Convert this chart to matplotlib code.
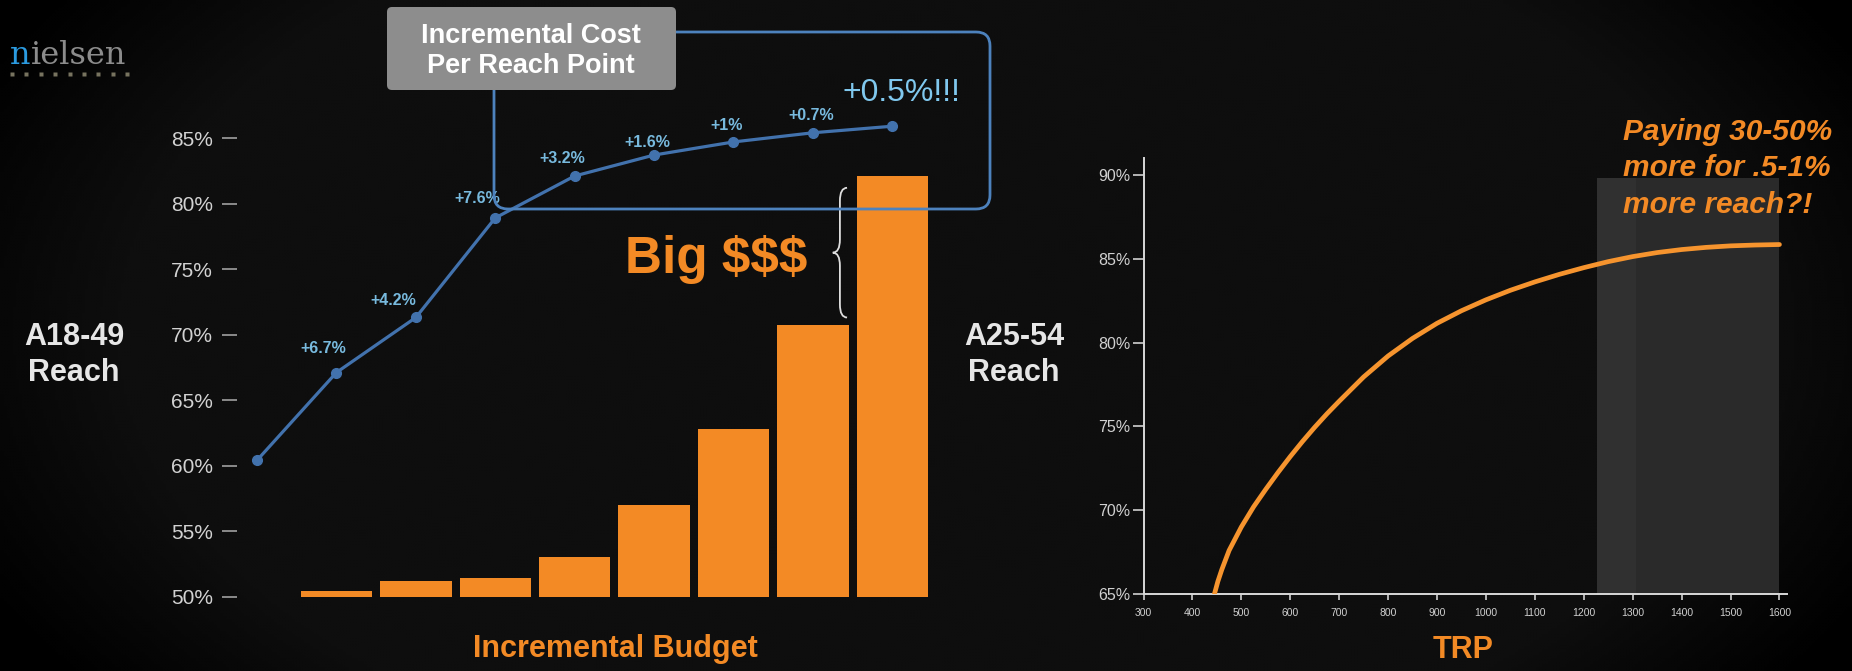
import numpy as np
import matplotlib
matplotlib.use('Agg')
import matplotlib.pyplot as plt
import matplotlib.transforms as mtransforms
from matplotlib.patches import FancyBboxPatch, PathPatch
from matplotlib.path import Path
from matplotlib.lines import Line2D

plt.rcParams['font.family'] = ['Liberation Sans', 'DejaVu Sans']

W, H = 1852, 671

# A18-49 reach: starting point and the step added by each budget increment
reach_start = 60.4
reach_steps = [6.7, 4.2, 7.6, 3.2, 1.6, 1.0, 0.7, 0.5]
step_labels = ['+6.7%', '+4.2%', '+7.6%', '+3.2%', '+1.6%', '+1%', '+0.7%', '+0.5%!!!']
# incremental budget bars, drawn on the reach scale from the 50% floor
budget_tops = [50.45, 51.15, 51.4, 53.0, 57.0, 62.8, 70.7, 82.1]
left_yticks = [50, 55, 60, 65, 70, 75, 80, 85]

# A25-54 reach curve by TRP
trp = [445, 452, 460, 475, 500, 525, 550, 575, 600, 625, 650, 675, 700, 750, 800,
       850, 900, 950, 1000, 1050, 1100, 1150, 1200, 1250, 1300, 1350, 1400,
       1450, 1500, 1550, 1600]
reach_curve = [65.0, 65.75, 66.45, 67.6, 69.0, 70.2, 71.25, 72.25, 73.2, 74.1, 74.95,
               75.75, 76.5, 77.95, 79.2, 80.25, 81.15, 81.9, 82.55, 83.12, 83.62,
               84.07, 84.47, 84.83, 85.13, 85.37, 85.55, 85.68, 85.77, 85.82, 85.85]
shade_trp = [1226, 1600]
shade_top = 89.8
right_yticks = [65, 70, 75, 80, 85, 90]
right_xticks = list(range(300, 1700, 100))

ORANGE = '#f38a25'
BLUE = '#4272ad'
LIGHTBLUE = '#78bade'
WHITE = '#e6e6e6'

fig = plt.figure(figsize=(W / 100, H / 100), dpi=100, facecolor='black')
# pixel coords measured from the top-left corner
img = mtransforms.Affine2D().scale(1 / W, -1 / H).translate(0, 1) + fig.transFigure

# soft dark vignette behind everything
bg = fig.add_axes([0, 0, 1, 1], zorder=-10)
bg.axis('off')
yy, xx = np.mgrid[0:H:3, 0:W:3]
r = np.sqrt(((xx - 930) / 980.0) ** 2 + ((yy - 330) / 560.0) ** 2)
glow = 0.055 * np.clip((1.08 - r) / 0.25, 0, 1)
bg.imshow(glow, cmap='gray', vmin=0, vmax=1, extent=[0, 1, 0, 1],
          aspect='auto', interpolation='bilinear')
bg.set_xlim(0, 1)
bg.set_ylim(0, 1)

# ---- left: reach vs incremental budget ----
axL = fig.add_axes([237 / W, 1 - 616.2 / H, 699 / W, 543.7 / H])
axL.set_facecolor('none')
axL.set_xlim(-0.252, 8.55)
axL.set_ylim(48.5, 90)

reach = np.concatenate([[reach_start], reach_start + np.cumsum(reach_steps)])
xs = np.arange(len(reach))

axL.bar(xs[1:], [t - 50 for t in budget_tops], bottom=50, width=0.9,
        color=ORANGE, zorder=2)
axL.plot(xs, reach, color=BLUE, lw=2.3, marker='o', ms=7, zorder=4)

label_offsets = [(-13, 24), (-23, 17), (-18, 19), (-12, 17), (-7, 13), (-7, 16), (-2, 17)]
for i, (lab, off) in enumerate(zip(step_labels[:-1], label_offsets)):
    axL.annotate(lab, (xs[i + 1], reach[i + 1]), xytext=off, textcoords='offset pixels',
                 ha='center', va='center', fontsize=11.5, fontweight='bold',
                 color=LIGHTBLUE, zorder=5, annotation_clip=False)
axL.annotate(step_labels[-1], (xs[-1], reach[-1]), xytext=(9, 33), textcoords='offset pixels',
             ha='center', va='center', fontsize=23, color='#80c8ee', zorder=5,
             annotation_clip=False)

axL.set_yticks(left_yticks)
axL.set_yticklabels([f'{v}%' for v in left_yticks])
axL.set_xticks([])
axL.tick_params(axis='y', length=10.8, width=1.2, color='#a0a0a0', pad=6.5,
                labelsize=15, labelcolor='#d2d2d2')
for s in axL.spines.values():
    s.set_visible(False)

# curly brace between the last two bars
bx0, bx1, by0, by1 = 7.25, 7.43, 71.3, 81.2
bym, bxm, d = (by0 + by1) / 2, (bx0 + bx1) / 2, 1.0
brace = Path([(bx1, by1), (bxm, by1), (bxm, by1 - d), (bxm, bym + d),
              (bxm, bym), (bx0, bym), (bxm, bym), (bxm, bym - d),
              (bxm, by0 + d), (bxm, by0), (bx1, by0)],
             [Path.MOVETO, Path.CURVE3, Path.CURVE3, Path.LINETO,
              Path.CURVE3, Path.CURVE3, Path.CURVE3, Path.CURVE3,
              Path.LINETO, Path.CURVE3, Path.CURVE3])
axL.add_patch(PathPatch(brace, fill=False, ec='#dedede', lw=1.3, zorder=5, clip_on=False))

# ---- right: reach vs TRP ----
axR = fig.add_axes([1143.5 / W, 1 - 594 / H, 643.3 / W, 435.8 / H])
axR.set_facecolor('none')
axR.set_xlim(300, 1615)
axR.set_ylim(65, 91)
axR.fill_between(shade_trp, 65, shade_top, color='#2a2a2a', lw=0, zorder=1)
axR.fill_between([shade_trp[0], shade_trp[0] + 80], 65, shade_top, color='#303030',
                 lw=0, zorder=1)
axR.plot(trp, reach_curve, color='#f6942e', lw=3.4, solid_capstyle='round',
         solid_joinstyle='round', zorder=3)

axR.set_yticks(right_yticks)
axR.set_yticklabels([f'{v}%' for v in right_yticks])
axR.set_xticks(right_xticks)
axR.set_xticklabels([str(v) for v in right_xticks])
axR.tick_params(axis='y', length=8, width=1.2, color='#d0d0d0', pad=1.5,
                labelsize=11.5, labelcolor='#d0d0d0')
axR.tick_params(axis='x', length=4, width=1.2, color='#d0d0d0', pad=6,
                labelsize=7.5, labelcolor='#d0d0d0')
for s in ['top', 'right']:
    axR.spines[s].set_visible(False)
for s in ['left', 'bottom']:
    axR.spines[s].set_color('#d8d8d8')
    axR.spines[s].set_linewidth(1.4)

# ---- callouts and titles ----
callout = FancyBboxPatch((494, 32), 496, 177, boxstyle='round,pad=0,rounding_size=14',
                         transform=img, fill=False, ec='#4d82bd', lw=2.0, zorder=6)
fig.add_artist(callout)
grey_box = FancyBboxPatch((387, 7), 289, 83, boxstyle='round,pad=0,rounding_size=5',
                          transform=img, fc='#8d8d8d', ec='none', zorder=7)
fig.add_artist(grey_box)
fig.text(531, 36, 'Incremental Cost', transform=img, ha='center', va='center',
         fontsize=19.5, fontweight='bold', color='white', zorder=8)
fig.text(531, 66, 'Per Reach Point', transform=img, ha='center', va='center',
         fontsize=19.5, fontweight='bold', color='white', zorder=8)

fig.text(716, 273, 'Big $$$', transform=img, ha='center', va='baseline',
         fontsize=37, fontweight='bold', color=ORANGE)

for x, name in [(74, 'A18-49'), (1014, 'A25-54')]:
    fig.text(x, 337, name, transform=img, ha='center', va='center',
             fontsize=22, fontweight='bold', color=WHITE)
    fig.text(x, 373, 'Reach', transform=img, ha='center', va='center',
             fontsize=22, fontweight='bold', color=WHITE)

fig.text(615, 649, 'Incremental Budget', transform=img, ha='center', va='center',
         fontsize=22, fontweight='bold', color=ORANGE)
fig.text(1463, 650, 'TRP', transform=img, ha='center', va='center',
         fontsize=22, fontweight='bold', color=ORANGE)

for y, line in zip([140, 176, 213], ['Paying 30-50%', 'more for .5-1%', 'more reach?!']):
    fig.text(1623, y, line, transform=img, ha='left', va='baseline', fontsize=21.5,
             fontweight='bold', fontstyle='italic', color=ORANGE)

# logo
fig.text(10, 64, 'n', transform=img, va='baseline', fontsize=23,
         family=['DejaVu Serif'], color='#2b9be0')
fig.text(30.5, 64, 'ielsen', transform=img, va='baseline', fontsize=23,
         family=['DejaVu Serif'], color='#8c8c8c')
fig.add_artist(Line2D(np.linspace(12, 127, 9), [74] * 9, transform=img, ls='none',
                      marker='s', ms=2.2, mfc='#77735f', mec='none'))

fig.savefig('out.png', dpi=100, facecolor='black')
